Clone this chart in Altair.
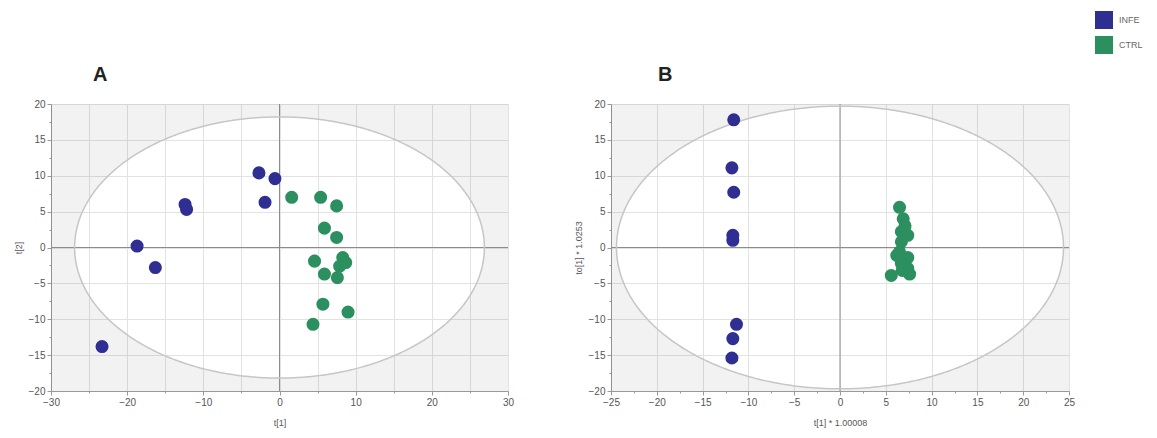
import altair as alt
import pandas as pd

groups = ["INFE", "CTRL"]
colors = ["#2f2f93", "#2c8f5f"]

# Panel A (PCA scores t[1], t[2])
a_infe_t1 = [-2.7, -0.6, -1.9, -12.4, -12.2, -18.7, -16.3, -23.3]
a_infe_t2 = [10.4, 9.6, 6.3, 6.0, 5.3, 0.2, -2.8, -13.8]
a_ctrl_t1 = [1.6, 5.4, 7.5, 5.9, 7.5, 4.6, 8.3, 8.7, 7.9, 5.9, 7.6, 5.7, 9.0, 4.4]
a_ctrl_t2 = [7.0, 7.0, 5.8, 2.7, 1.4, -1.9, -1.4, -2.1, -2.6, -3.7, -4.2, -7.9, -9.0, -10.7]

# Panel B (OPLS-DA scores t[1], to[1])
b_infe_t1 = [-11.6, -11.8, -11.6, -11.7, -11.7, -11.3, -11.7, -11.8]
b_infe_to1 = [17.8, 11.1, 7.7, 1.7, 1.0, -10.7, -12.7, -15.4]
b_ctrl_t1 = [6.5, 6.9, 7.1, 6.7, 7.4, 6.7, 6.5, 6.2, 7.4, 6.7, 7.4, 5.6, 7.6, 6.8]
b_ctrl_to1 = [5.6, 4.0, 3.0, 2.2, 1.7, 0.8, -0.6, -1.1, -1.4, -2.2, -2.9, -3.9, -3.7, -3.2]

# axes
a_x_domain = [-30, 30]
b_x_domain = [-25, 25]
y_domain = [-20, 20]
a_x_ticks = [-30, -25, -20, -15, -10, -5, 0, 5, 10, 15, 20, 25, 30]
b_x_ticks = [-25, -22.5, -20, -17.5, -15, -12.5, -10, -7.5, -5, -2.5, 0,
             2.5, 5, 7.5, 10, 12.5, 15, 17.5, 20, 22.5, 25]
y_ticks = [-20, -17.5, -15, -12.5, -10, -7.5, -5, -2.5, 0,
           2.5, 5, 7.5, 10, 12.5, 15, 17.5, 20]

# Hotelling T2 ellipse half-axes
a_ellipse = [26.9, 18.2]
b_ellipse = [24.4, 19.7]

FONT = "Liberation Sans"


def make_axis(values, label_step, grid_step, title, pad):
    return alt.Axis(
        values=values,
        labelExpr=f"datum.value % {label_step} === 0 ? datum.label : ''",
        gridOpacity={"condition": {"test": f"datum.value % {grid_step} !== 0", "value": 0}, "value": 1},
        tickSize={"condition": {"test": f"datum.value % {label_step} !== 0", "value": 2}, "value": 4},
        title=title,
        titlePadding=pad,
        labelFlush=False,
        labelOverlap=False,
    )


def panel(infe_x, infe_y, ctrl_x, ctrl_y, xdom, xticks, xlabel_step, xtitle, ytitle, ell, letter, dx, w):
    df = pd.DataFrame({
        "x": infe_x + ctrl_x,
        "y": infe_y + ctrl_y,
        "group": ["INFE"] * len(infe_x) + ["CTRL"] * len(ctrl_x),
    })
    xs = alt.Scale(domain=xdom, nice=False, zero=False)
    ys = alt.Scale(domain=y_domain, nice=False, zero=False)
    xax = make_axis(xticks, xlabel_step, 5, xtitle, 11)
    yax = make_axis(y_ticks, 5, 5, ytitle, 5)
    ea, eb = ell

    seq = alt.Chart(alt.sequence(-1.2, 1.2001, 0.002, as_="s")).transform_calculate(
        ex=f"datum.s * {ea}",
        yt=f"abs(datum.s) < 1 ? {eb} * sqrt(1 - datum.s * datum.s) : 0",
        yb="-datum.yt",
        ytop=f"{y_domain[1]}",
        ybot=f"{y_domain[0]}",
    )
    shade_top = seq.mark_area(clip=True, color="black", opacity=0.05).encode(
        x=alt.X("ex:Q", scale=xs, axis=xax),
        y=alt.Y("yt:Q", scale=ys, axis=yax),
        y2="ytop:Q",
    )
    shade_bot = seq.mark_area(clip=True, color="black", opacity=0.05).encode(
        x=alt.X("ex:Q", scale=xs, axis=xax),
        y=alt.Y("ybot:Q", scale=ys, axis=yax),
        y2="yb:Q",
    )
    zero = pd.DataFrame({"v": [0]})
    vline = alt.Chart(zero).mark_rule(color="#8c8c8c", strokeWidth=1).encode(
        x=alt.X("v:Q", scale=xs, axis=xax))
    hline = alt.Chart(zero).mark_rule(color="#8c8c8c", strokeWidth=1).encode(
        y=alt.Y("v:Q", scale=ys, axis=yax))
    ellipse = alt.Chart(alt.sequence(0, 6.2932, 0.01, as_="th")).transform_calculate(
        ex=f"{ea} * cos(datum.th)", ey=f"{eb} * sin(datum.th)"
    ).mark_line(color="#c6c6c6", strokeWidth=1.5).encode(
        x=alt.X("ex:Q", scale=xs, axis=xax),
        y=alt.Y("ey:Q", scale=ys, axis=yax),
        order="th:Q",
    )
    pts = alt.Chart(df).mark_circle(size=170, opacity=1).encode(
        x=alt.X("x:Q", scale=xs, axis=xax),
        y=alt.Y("y:Q", scale=ys, axis=yax),
        color=alt.Color("group:N", scale=alt.Scale(domain=groups, range=colors),
                        legend=alt.Legend(title=None, orient="none", legendX=1044, legendY=-93,
                                          symbolType="square", symbolSize=324, symbolStrokeWidth=0,
                                          rowPadding=7, labelFontSize=9, labelColor="#666",
                                          labelOffset=6, labelFont=FONT)),
    )
    return alt.layer(shade_top, shade_bot, vline, hline, ellipse, pts).properties(
        width=w, height=287,
        title=alt.TitleParams(letter, anchor="start", frame="group", dx=dx, fontSize=20,
                              fontWeight="bold", color="#222", font=FONT, offset=14),
    )


pa = panel(a_infe_t1, a_infe_t2, a_ctrl_t1, a_ctrl_t2, a_x_domain, a_x_ticks, 10,
           "t[1]", "t[2]", a_ellipse, "A", 42, 457)
pb = panel(b_infe_t1, b_infe_to1, b_ctrl_t1, b_ctrl_to1, b_x_domain, b_x_ticks, 5,
           "t[1] * 1.00008", "to[1] * 1.0253", b_ellipse, "B", 47, 458)

chart = alt.hconcat(pa, pb, spacing=58).properties(
    padding={"left": 5, "top": 3, "right": 0, "bottom": 0}
).configure_view(stroke="transparent").configure_axis(
    labelFont=FONT, labelFontSize=10, labelColor="#555",
    titleFont=FONT, titleFontSize=9, titleColor="#555", titleFontWeight="normal",
    domainColor="#999", tickColor="#999", gridColor="#e2e2e2", labelPadding=2,
)

chart.save("out.html", embed_options={"renderer": "svg", "actions": False})
